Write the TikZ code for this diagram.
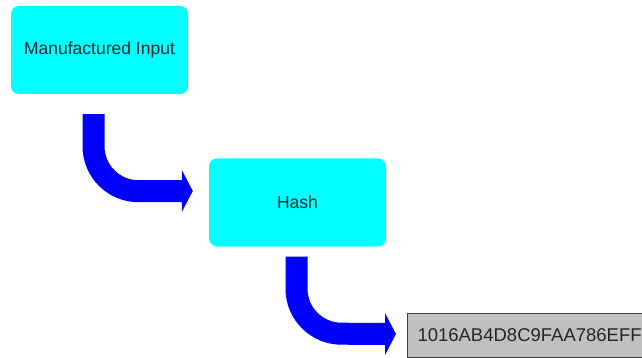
\documentclass[tikz,border=0pt]{standalone}
\usepackage{fontspec}
\setmainfont{Liberation Sans}
\usetikzlibrary{calc}
\definecolor{boxcyan}{RGB}{0,255,255}
\definecolor{txt}{RGB}{25,45,50}
\definecolor{hashgray}{RGB}{192,192,192}
\definecolor{arrowblue}{RGB}{0,0,255}
\begin{document}
\begin{tikzpicture}[x=1pt,y=-1pt,
  stepbox/.style={fill=boxcyan, rounded corners=8pt, minimum width=177pt, minimum height=88pt, inner sep=0pt, font=\fontsize{17.5}{20}\selectfont, text=txt},
  outbox/.style={fill=hashgray, draw=black!75, line width=1pt, anchor=west, minimum height=44pt, text width=250pt, align=left, inner xsep=10pt, font=\fontsize{18.5}{21}\selectfont, text=black!85},
  shaft/.style={draw=arrowblue, line width=22pt},
  headfill/.style={fill=arrowblue}
]
\useasboundingbox (0,0) rectangle (642,358);
\clip (0,0) rectangle (642,358);
\node[stepbox] (inp) at (99.5,50) {Manufactured Input};
\node[stepbox] (hash) at (297.5,202.5) {Hash};
\node[outbox] (out) at (407,335) {1016AB4D8C9FAA786EFF};
% arrow 1
\coordinate (a1s) at ($(inp.south)+(-6,20)$);
\coordinate (a1b) at ($(hash.west)+(-27,-11.5)$);
\coordinate (a1t) at ($(hash.west)+(-16,-11.5)$);
\draw[shaft] (a1s) -- ++(0,32) arc[start angle=180,end angle=270,radius=45pt] -- (a1b);
\fill[headfill] ($(a1b)+(0,-21)$) -- (a1t) -- ($(a1b)+(0,21)$) -- cycle;
% arrow 2
\coordinate (a2s) at ($(hash.south)+(-1,10)$);
\coordinate (a2b) at ($(out.west)+(-22,-1)$);
\coordinate (a2t) at ($(out.west)+(-11,-1)$);
\draw[shaft] (a2s) -- ++(0,32) arc[start angle=180,end angle=270,radius=45pt] -- (a2b);
\fill[headfill] ($(a2b)+(0,-21)$) -- (a2t) -- ($(a2b)+(0,21)$) -- cycle;
\end{tikzpicture}
\end{document}
